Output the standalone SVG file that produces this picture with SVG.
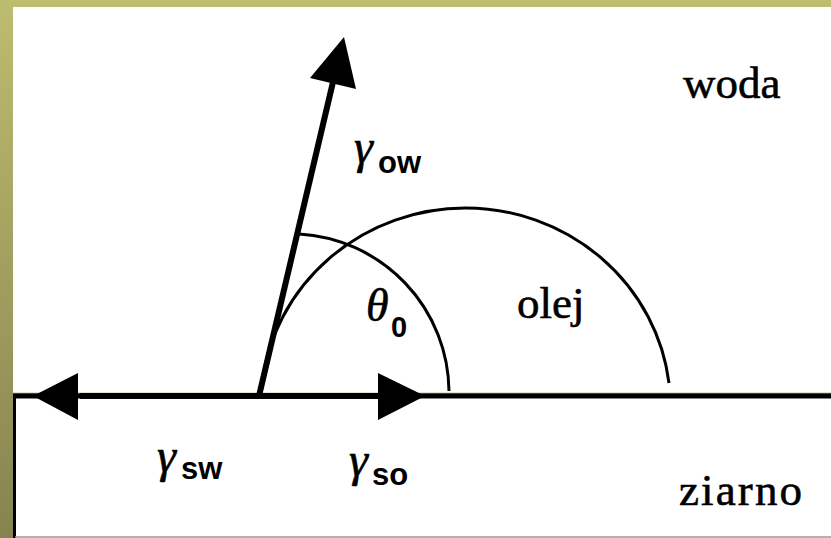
<svg xmlns="http://www.w3.org/2000/svg" width="831" height="538" viewBox="0 0 831 538">
<defs>
<linearGradient id="bg" x1="0" y1="0" x2="0" y2="1">
<stop offset="0" stop-color="#bdbc6f"/>
<stop offset="1" stop-color="#868350"/>
</linearGradient>
<style>
.lbl{font-family:"Liberation Serif","Times New Roman",serif;font-size:45px;fill:#000;stroke:#000;stroke-width:0.6}
.gr{font-family:"Liberation Serif","Times New Roman",serif;font-style:italic;fill:#000;stroke:#000;stroke-width:0.6}
.sub{font-family:"Liberation Sans",Arial,sans-serif;font-weight:bold;fill:#000}
.thin{fill:none;stroke:#000;stroke-width:3}
.shaft{fill:none;stroke:#000;stroke-width:6}
.head{fill:#000;stroke:none}
</style>
</defs>
<rect x="0" y="0" width="831" height="538" fill="url(#bg)"/>
<rect x="13" y="7" width="818" height="531" fill="#fff"/>

<g id="ziarno">
<line x1="13" y1="393.5" x2="831" y2="393.5" stroke="#8a8650" stroke-width="1.5"/>
<line x1="13" y1="396" x2="831" y2="396" stroke="#000" stroke-width="5"/>
<line x1="14.5" y1="396" x2="14.5" y2="538" stroke="#000" stroke-width="3"/>
<line x1="15" y1="537" x2="831" y2="537" stroke="#999" stroke-width="1.5"/>
<text class="lbl" x="679" y="505" textLength="123" lengthAdjust="spacing">ziarno</text>
</g>

<g id="olej">
<path class="thin" d="M 262 383 A 205 199 0 0 1 669 383"/>
<text class="lbl" x="517" y="318">olej</text>
</g>

<g id="woda">
<text class="lbl" x="683" y="98">woda</text>
</g>

<g id="connectors">
<path class="thin" d="M 299 234 A 159 159 0 0 1 449 391"/>
<line class="shaft" x1="259" y1="396" x2="333" y2="82"/>
<polygon class="head" points="344,37 310,78 356,89"/>
<line class="shaft" x1="80" y1="396" x2="378" y2="396"/>
<polygon class="head" points="33,396 78,373 78,420"/>
<polygon class="head" points="425,396 378,373 378,420"/>
</g>

<g id="label-gamma-ow">
<text class="gr" x="354" y="163" font-size="48">γ</text>
<text class="sub" x="378" y="173" font-size="31">ow</text>
</g>
<g id="label-theta">
<text class="gr" x="366" y="321" font-size="46">θ</text>
<text class="sub" x="391" y="337" font-size="29">0</text>
</g>
<g id="label-gamma-sw">
<text class="gr" x="157" y="472" font-size="48">γ</text>
<text class="sub" x="181" y="479" font-size="31">sw</text>
</g>
<g id="label-gamma-so">
<text class="gr" x="349" y="476" font-size="48">γ</text>
<text class="sub" x="372" y="485" font-size="31">so</text>
</g>
</svg>
